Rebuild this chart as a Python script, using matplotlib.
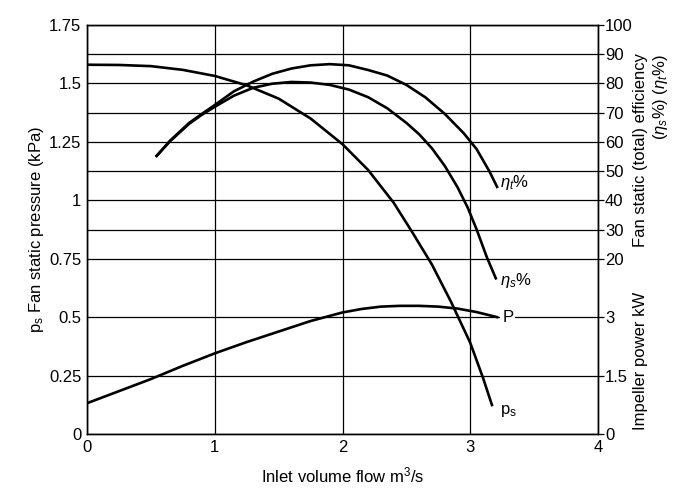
import matplotlib
matplotlib.use("Agg")
import matplotlib.pyplot as plt

plt.rcParams["font.family"] = ["Liberation Sans", "DejaVu Sans"]
plt.rcParams["mathtext.fontset"] = "custom"
plt.rcParams["mathtext.rm"] = "Liberation Sans"
plt.rcParams["mathtext.it"] = "Liberation Sans:italic"

# fan static pressure p_s (kPa) against inlet volume flow (m3/s)
ps_flow = [0, 0.25, 0.5, 0.75, 1.0, 1.25, 1.5, 1.75, 2.0, 2.2, 2.4, 2.55, 2.7, 2.85, 3.0, 3.1, 3.17]
ps_kpa = [1.58, 1.579, 1.574, 1.558, 1.532, 1.492, 1.435, 1.35, 1.24, 1.13, 0.99, 0.86, 0.725,
          0.565, 0.39, 0.24, 0.124]

# total efficiency eta_t (%)
et_flow = [0.545, 0.65, 0.8, 0.9, 1.0, 1.15, 1.3, 1.45, 1.6, 1.75, 1.9, 2.05, 2.2, 2.35, 2.5,
           2.65, 2.8, 2.95, 3.05, 3.15, 3.21]
et_pct = [55.2, 60.4, 66.5, 69.6, 72.6, 77.3, 80.6, 83.3, 85.1, 86.2, 86.6, 86.2, 84.6, 82.7,
          79.5, 75.2, 69.6, 62.9, 57.5, 49.9, 44.6]

# static efficiency eta_s (%)
es_flow = [0.545, 0.65, 0.8, 0.9, 1.0, 1.15, 1.3, 1.45, 1.6, 1.75, 1.9, 2.05, 2.2, 2.35, 2.5,
           2.6, 2.7, 2.8, 2.9, 2.98, 3.05, 3.13, 3.2]
es_pct = [55.2, 60.2, 66.2, 69.3, 72.0, 75.8, 78.5, 79.9, 80.5, 80.3, 79.5, 77.9, 75.3, 71.5,
          66.5, 62.6, 57.8, 51.8, 44.5, 37.5, 30.0, 20.5, 13.3]

# impeller power P (kW)
pw_flow = [0, 0.25, 0.5, 0.75, 1.0, 1.25, 1.5, 1.75, 2.0, 2.15, 2.3, 2.45, 2.6, 2.75, 2.9,
           3.05, 3.21]
pw_kw = [0.79, 1.10, 1.41, 1.75, 2.07, 2.36, 2.63, 2.90, 3.12, 3.21, 3.27, 3.29, 3.29, 3.27,
         3.22, 3.13, 3.0]

p_ticks = [0, 0.25, 0.5, 0.75, 1, 1.25, 1.5, 1.75]
p_labels = ["0", "0.25", "0.5", "0.75", "1", "1.25", "1.5", "1.75"]
eff_ticks = [20, 30, 40, 50, 60, 70, 80, 90, 100]
kw_ticks = [0, 1.5, 3]
kw_labels = ["0", "1.5", "3"]
x_ticks = [0, 1, 2, 3, 4]

FS = 12

fig = plt.figure(figsize=(6.84, 5.04), dpi=100)
ax = fig.add_axes([87 / 684, 70 / 504, 511 / 684, 409 / 504])
ax.set_xlim(0, 4)
ax.set_ylim(0, 1.75)

# efficiency scale: 20 % at 0.75 kPa, 100 % at 1.75 kPa
ax_eff = ax.twinx()
ax_eff.set_ylim(-40, 100)
# power scale: 3 kW at 0.5 kPa
ax_pow = ax.twinx()
ax_pow.set_ylim(0, 10.5)

ax.set_xticks(x_ticks)
ax.set_yticks(p_ticks)
ax.set_yticklabels(p_labels)
ax.set_yticks([0.875, 1.125, 1.375, 1.625], minor=True)
ax.tick_params(axis="both", which="both", length=0, labelsize=FS, pad=4)
ax.grid(True, which="both", color="black", lw=0.9)
ax.set_axisbelow(True)

ax_eff.set_yticks(eff_ticks)
ax_eff.tick_params(axis="y", direction="out", length=4, width=0.9, labelsize=FS, pad=1)
ax_pow.set_yticks(kw_ticks)
ax_pow.set_yticklabels(kw_labels)
ax_pow.tick_params(axis="y", direction="out", length=4, width=0.9, labelsize=FS, pad=1)

for a in (ax, ax_eff, ax_pow):
    for s in a.spines.values():
        s.set_linewidth(0.9)

ax.plot(ps_flow, ps_kpa, color="black", lw=1.9)
ax_eff.plot(et_flow, et_pct, color="black", lw=1.9)
ax_eff.plot(es_flow, es_pct, color="black", lw=1.9)
ax_pow.plot(pw_flow, pw_kw, color="black", lw=1.9)

ax_eff.text(3.23, 46, r"$\eta_t$%", fontsize=FS, va="center", ha="left")
ax_eff.text(3.23, 12.5, r"$\eta_s$%", fontsize=FS, va="center", ha="left")
ax_pow.text(3.25, 3.0, "P", fontsize=FS, va="center", ha="left",
            bbox=dict(facecolor="white", edgecolor="none", pad=1.5))
ax.text(3.23, 0.10, r"p$_\mathrm{s}$", fontsize=FS, va="center", ha="left")

ax.set_xlabel(r"Inlet volume flow m$^3$/s", fontsize=FS, labelpad=8)
ax.set_ylabel(r"p$_\mathrm{s}$ Fan static pressure (kPa)", fontsize=FS, labelpad=2)

fig.text(641 / 684, 1 - 150 / 504, "Fan static (total) efficiency", rotation=90,
         fontsize=FS, ha="center", va="center")
fig.text(660 / 684, 1 - 97 / 504, r"($\eta_s$%) ($\eta_t$%)", rotation=90,
         fontsize=FS, ha="center", va="center")
fig.text(641 / 684, 1 - 361 / 504, "Impeller power kW", rotation=90,
         fontsize=FS, ha="center", va="center")

fig.savefig("out.png", dpi=100)
